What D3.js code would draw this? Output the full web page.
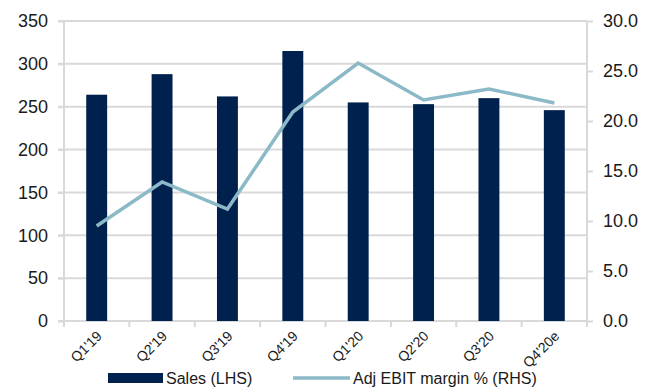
<!DOCTYPE html>
<html>
<head>
<meta charset="utf-8">
<script src="https://cdn.jsdelivr.net/npm/d3@7/dist/d3.min.js"></script>
<style>
  html, body { margin: 0; padding: 0; background: #fff; }
  svg { display: block; font-family: "Liberation Sans", Arial, sans-serif; }
</style>
</head>
<body>
<div id="chart"></div>
<script>
var quarters = ["Q1'19", "Q2'19", "Q3'19", "Q4'19", "Q1'20", "Q2'20", "Q3'20", "Q4'20e"];
var sales = [264, 288, 262, 315, 255, 253, 260, 246];
var margin = [9.5, 13.9, 11.2, 20.9, 25.8, 22.1, 23.2, 21.8];
var leftTicks = [0, 50, 100, 150, 200, 250, 300, 350];
var rightTicks = [0, 5, 10, 15, 20, 25, 30];
var legendLabels = ["Sales (LHS)", "Adj EBIT margin % (RHS)"];

var width = 652, height = 387;
var plot = { left: 64, right: 587, top: 21, bottom: 321 };
var barColor = "#00214d", lineColor = "#8bb9c7", gridColor = "#d9d9d9";

var svg = d3.select("#chart").append("svg")
    .attr("width", width)
    .attr("height", height);

var x = d3.scaleBand().domain(quarters).range([plot.left, plot.right]).padding(0);
var yL = d3.scaleLinear().domain([0, 350]).range([plot.bottom, plot.top]);
var yR = d3.scaleLinear().domain([0, 30]).range([plot.bottom, plot.top]);

// gridlines (left axis)
svg.append("g")
    .selectAll("line")
    .data(leftTicks)
    .enter()
    .append("line")
    .attr("x1", plot.left - 6)
    .attr("x2", plot.right)
    .attr("y1", function (d) { return yL(d); })
    .attr("y2", function (d) { return yL(d); })
    .attr("stroke", gridColor)
    .attr("stroke-width", 2);

// left axis
var leftAxis = svg.append("g")
    .attr("transform", "translate(" + plot.left + ",0)")
    .call(d3.axisLeft(yL).tickValues(leftTicks).tickSize(6).tickPadding(10).tickFormat(d3.format("d")));

// right axis
var rightAxis = svg.append("g")
    .attr("transform", "translate(" + plot.right + ",0)")
    .call(d3.axisRight(yR).tickValues(rightTicks).tickSize(6).tickPadding(10).tickFormat(d3.format(".1f")));

// bottom axis
var bottomAxis = svg.append("g")
    .attr("transform", "translate(0," + plot.bottom + ")")
    .call(d3.axisBottom(x).tickSize(0).tickPadding(0));

[leftAxis, rightAxis].forEach(function (g) {
    g.select(".domain").attr("stroke", gridColor).attr("stroke-width", 2);
    g.selectAll(".tick line").attr("stroke", gridColor).attr("stroke-width", 2);
    g.selectAll(".tick text").attr("font-size", 18).attr("fill", "#1a1a1a")
        .attr("font-family", "Liberation Sans, Arial, sans-serif");
});
leftAxis.select(".domain").remove();
leftAxis.append("line")
    .attr("x1", 0).attr("x2", 0)
    .attr("y1", plot.top).attr("y2", plot.bottom + 6)
    .attr("stroke", gridColor).attr("stroke-width", 2);
rightAxis.select(".domain").remove();
rightAxis.append("line")
    .attr("x1", 0).attr("x2", 0)
    .attr("y1", plot.top).attr("y2", plot.bottom + 6)
    .attr("stroke", gridColor).attr("stroke-width", 2);

bottomAxis.select(".domain").remove();
bottomAxis.selectAll(".tick line").remove();
bottomAxis.append("g")
    .selectAll("line")
    .data(quarters.slice(1))
    .enter()
    .append("line")
    .attr("x1", function (d) { return x(d); })
    .attr("x2", function (d) { return x(d); })
    .attr("y1", 0)
    .attr("y2", 6)
    .attr("stroke", gridColor)
    .attr("stroke-width", 2);
bottomAxis.selectAll(".tick text")
    .attr("font-size", 14)
    .attr("fill", "#1a1a1a")
    .attr("font-family", "Liberation Sans, Arial, sans-serif")
    .attr("text-anchor", "end")
    .attr("dy", null)
    .attr("transform", "translate(6,16) rotate(-45)");

// bars
var barW = x.bandwidth() * 0.32;
svg.append("g")
    .selectAll("rect")
    .data(sales)
    .enter()
    .append("rect")
    .attr("x", function (d, i) { return x(quarters[i]) + x.bandwidth() / 2 - barW / 2; })
    .attr("y", function (d) { return yL(d); })
    .attr("width", barW)
    .attr("height", function (d) { return yL(0) - yL(d); })
    .attr("fill", barColor);

// line
var line = d3.line()
    .x(function (d, i) { return x(quarters[i]) + x.bandwidth() / 2; })
    .y(function (d) { return yR(d); });
svg.append("path")
    .datum(margin)
    .attr("d", line)
    .attr("fill", "none")
    .attr("stroke", lineColor)
    .attr("stroke-width", 3.5)
    .attr("stroke-linejoin", "miter");

// legend
var legend = svg.append("g");
legend.append("rect")
    .attr("x", 108).attr("y", 373)
    .attr("width", 55).attr("height", 10)
    .attr("fill", barColor);
legend.append("text")
    .attr("x", 166).attr("y", 384)
    .attr("font-size", 16)
    .attr("fill", "#1a1a1a")
    .text(legendLabels[0]);
legend.append("line")
    .attr("x1", 293).attr("x2", 350)
    .attr("y1", 378).attr("y2", 378)
    .attr("stroke", lineColor)
    .attr("stroke-width", 3.5);
legend.append("text")
    .attr("x", 353).attr("y", 384)
    .attr("font-size", 16)
    .attr("fill", "#1a1a1a")
    .text(legendLabels[1]);
</script>
</body>
</html>
